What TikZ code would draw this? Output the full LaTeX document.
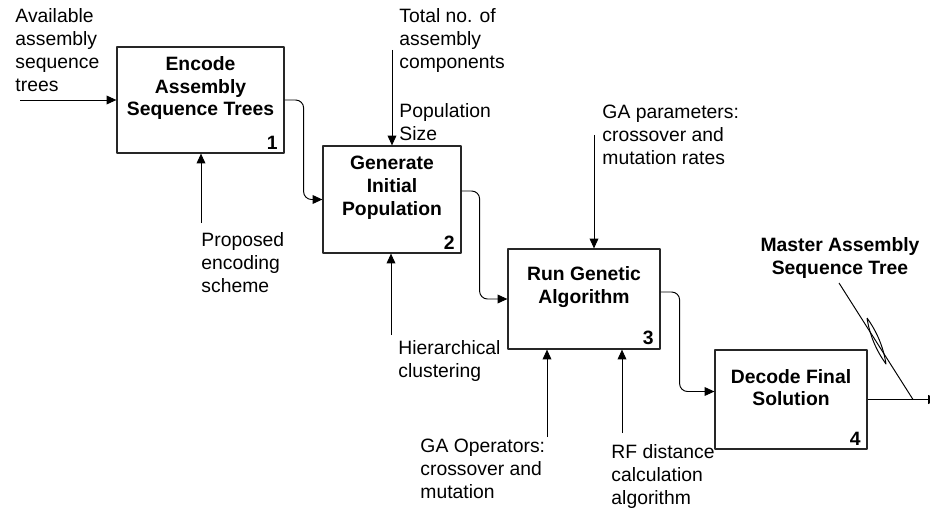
\documentclass[tikz,border=0pt]{standalone}
\usepackage{fontspec}
\setmainfont{Liberation Sans}
\usetikzlibrary{arrows.meta}
\tikzset{
	box/.style={draw=black!85, line width=0.7pt},
	ttl/.style={align=center, inner sep=0pt, font=\fontsize{11}{13}\selectfont\bfseries},
	lbl/.style={align=left, inner sep=0pt, anchor=north west},
	num/.style={anchor=south east, inner sep=0pt, font=\fontsize{11}{13}\selectfont\bfseries},
}
\begin{document}
\begin{tikzpicture}[x=0.02cm, y=-0.02cm, font=\fontsize{11}{13}\selectfont, line join=round, line width=0.55pt, >={Triangle[length=5.6pt,width=5pt]}]
	\useasboundingbox (0,0) rectangle (930,510);
	% activity boxes
	\node[box, minimum width=3.34cm, minimum height=2.12cm] (b1) at (200.5,100) {};
	\node[box, minimum width=2.76cm, minimum height=2.14cm] (b2) at (392,199.5) {};
	\node[box, minimum width=3.04cm, minimum height=2.00cm] (b3) at (584,299) {};
	\node[box, minimum width=3.04cm, minimum height=1.98cm] (b4) at (791,399.5) {};
	\node[ttl] (t1) at ([yshift=6.8pt]b1.center) {Encode\\Assembly\\Sequence Trees};
	\node[ttl] (t2) at ([yshift=6.8pt]b2.center) {Generate\\Initial\\Population};
	\node[ttl] (t3) at ([yshift=6.8pt]b3.center) {Run Genetic\\Algorithm};
	\node[ttl] (t4) at ([yshift=6.8pt]b4.center) {Decode Final\\Solution};
	\foreach \n in {1,...,4}
	\node[num] (n\n) at ([shift={(-6.5,-4)}]b\n.south east) {\n};
	% texts
	\node[lbl] (lin) at (15,8) {Available\\assembly\\sequence\\trees};
	\node[lbl] (lt2) at (399,8) {Total no. of\\assembly\\components\\[15pt]Population\\Size};
	\node[lbl] (lc1) at (201,232) {Proposed\\encoding\\scheme};
	\node[lbl] (lc2) at (398,340) {Hierarchical\\clustering};
	\node[lbl] (lt3) at (602,105) {GA parameters:\\crossover and\\mutation rates};
	\node[lbl] (lm3a) at (420,439) {GA Operators:\\crossover and\\mutation};
	\node[lbl] (lm3b) at (611,444) {RF distance\\calculation\\algorithm};
	\node[ttl, anchor=north] (lout) at (840,237) {Master Assembly\\Sequence Tree};
	% free ends
	\coordinate (in1) at (20,100);
	\coordinate (c2) at (392,50);
	\coordinate (c3) at (594,135);
	\coordinate (m1) at (201,223);
	\coordinate (m2) at (391,335);
	\coordinate (m3) at (547,437);
	\coordinate (m4) at (622,433);
	\coordinate (out) at (938,399.5);
	\coordinate (k1) at (839,283);
	\coordinate (k2) at (913,399.5);
	% arrows
	\draw[->] (in1) -- (b1.west);
	\foreach \c/\b in {c2/b2.north, c3/b3.north, m1/b1.south, m2/b2.south, m3/b3.south, m4/b3.south}
	\draw[->] (\c) -- (\c |- \b);
	\draw[->, rounded corners=4.5pt] (b1.east) -- ++(19,0) |- (b2.west);
	\draw[->, rounded corners=4.5pt] ([shift={(0,-8.5)}]b2.east) -- ++(18,0) |- (b3.west);
	\draw[->, rounded corners=4.5pt] ([shift={(0,-7)}]b3.east) -- ++(19,0) |- ([shift={(0,-8)}]b4.west);
	\draw[->] (b4.east) -- (out);
	\draw (k1) -- (k2);
	\draw (867,318) .. controls (877,331.8) and (883.4,347.2) .. (886,364)
	.. controls (876,350.2) and (869.6,334.8) .. (867,318);
\end{tikzpicture}
\end{document}
